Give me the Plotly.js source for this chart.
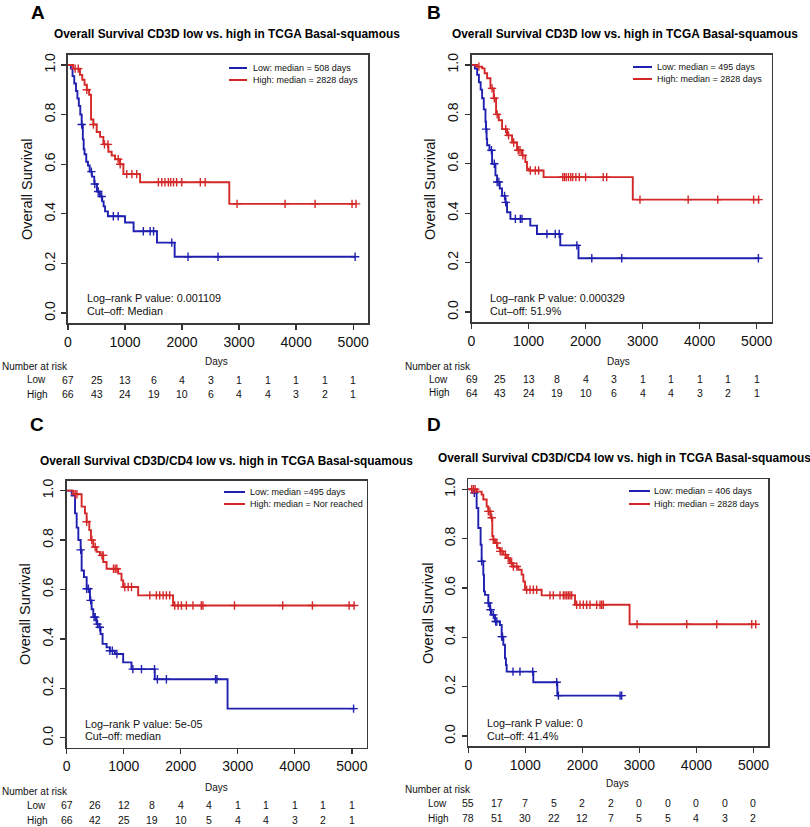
<!DOCTYPE html>
<html><head><meta charset="utf-8">
<script src="https://cdn.plot.ly/plotly-3.0.1.min.js"></script>
<style>html,body{margin:0;padding:0;background:#fff}#chart{width:810px;height:827px}</style>
</head><body><div id="chart"></div>
<script>
// ---------------- DATA ----------------
const riskDays = [0,500,1000,1500,2000,2500,3000,3500,4000,4500,5000];
const xTicks = [0,1000,2000,3000,4000,5000];
const yTicks = [0,0.2,0.4,0.6,0.8,1.0];
const yTickText = ['0.0','0.2','0.4','0.6','0.8','1.0'];

// Panel A
const A_low_t  = [0,50,80,110,140,165,190,215,240,260,275,290,320,350,380,420,460,508,560,600,625,650,700,1000,1150,1560,1870,5050];
const A_low_s  = [1.0,0.985,0.955,0.925,0.895,0.865,0.835,0.80,0.76,0.70,0.66,0.64,0.61,0.595,0.57,0.55,0.52,0.49,0.47,0.45,0.43,0.41,0.39,0.365,0.33,0.284,0.227,0.227];
const A_low_c  = [240,410,470,530,590,795,880,1320,1440,1500,1820,2105,2630,5034];
const A_high_t = [0,90,210,250,290,330,370,404,445,503,562,620,708,766,825,913,971,1264,2828,5050];
const A_high_s = [1.0,0.985,0.96,0.94,0.92,0.90,0.88,0.78,0.76,0.73,0.71,0.68,0.65,0.635,0.62,0.60,0.56,0.527,0.44,0.44];
const A_high_c = [125,180,330,445,640,700,880,915,1030,1120,1205,1585,1645,1700,1760,1800,1850,1905,1995,2320,2405,2964,3806,4332,4980,5050];
const A_low_risk  = [67,25,13,6,4,3,1,1,1,1,1];
const A_high_risk = [66,43,24,19,10,6,4,4,3,2,1];

// Panel B
const B_low_t  = [0,60,99,130,160,186,215,245,255,265,274,315,361,420,449,495,536,594,623,682,1031,1148,1556,1876,5050];
const B_low_s  = [1.0,0.985,0.96,0.93,0.90,0.865,0.82,0.77,0.74,0.70,0.675,0.655,0.60,0.553,0.526,0.50,0.47,0.444,0.404,0.377,0.35,0.316,0.27,0.218,0.218];
const B_low_c  = [256,350,400,450,480,580,600,769,856,885,1322,1468,1538,1847,2109,2634,5030];
const B_high_t = [0,100,186,230,274,332,390,431,478,536,623,711,798,885,944,973,1002,1264,2828,5050];
const B_high_s = [1.0,0.993,0.986,0.966,0.946,0.905,0.865,0.80,0.776,0.74,0.715,0.686,0.655,0.634,0.607,0.58,0.573,0.546,0.455,0.455];
const B_high_c = [130,360,400,450,600,650,740,820,850,900,1031,1119,1177,1600,1630,1660,1700,1740,1775,1830,1890,2000,2310,2370,2954,3799,4318,4947,5034];
const B_low_risk  = [69,25,13,8,4,3,1,1,1,1,1];
const B_high_risk = [64,43,24,19,10,6,4,4,3,2,1];

// Panel C
const C_low_t  = [0,87,146,175,204,245,262,303,350,408,437,466,524,571,594,629,699,757,845,990,1136,1544,2820,5050];
const C_low_s  = [1.0,0.98,0.908,0.85,0.80,0.76,0.677,0.65,0.603,0.556,0.52,0.488,0.46,0.447,0.42,0.38,0.366,0.352,0.339,0.305,0.278,0.237,0.118,0.118];
const C_low_c  = [245,350,380,420,480,500,540,580,757,800,880,1160,1311,1540,1590,1748,2610,2634,5030];
const C_high_t = [0,117,262,320,350,396,425,466,524,583,641,699,903,961,990,1253,1865,5050];
const C_high_s = [1.0,0.985,0.935,0.908,0.874,0.84,0.80,0.772,0.752,0.738,0.711,0.684,0.664,0.637,0.61,0.576,0.535,0.535];
const C_high_c = [150,180,350,440,500,620,640,820,850,880,1019,1078,1136,1457,1573,1631,1690,1748,1806,1894,1953,2011,2098,2214,2360,2389,2942,3787,4308,4952,5039];
const C_low_risk  = [67,26,12,8,4,4,1,1,1,1,1];
const C_high_risk = [66,42,25,19,10,5,4,4,3,2,1];

// Panel D
const D_low_t  = [0,88,146,175,216,234,263,275,292,351,380,406,468,555,585,614,643,660,673,1140,1561,2690];
const D_low_s  = [1.0,0.985,0.924,0.843,0.775,0.708,0.654,0.586,0.572,0.539,0.512,0.491,0.464,0.45,0.403,0.37,0.315,0.288,0.261,0.218,0.164,0.164];
const D_low_c  = [105,234,351,390,440,480,500,585,600,784,906,1130,1550,1580,2661,2690];
const D_high_t = [0,150,234,263,322,351,392,421,439,468,509,555,614,672,731,789,877,935,965,994,1286,1871,2828,5050];
const D_high_s = [1.0,0.99,0.978,0.958,0.93,0.91,0.884,0.81,0.796,0.782,0.762,0.748,0.735,0.721,0.70,0.687,0.674,0.654,0.626,0.593,0.57,0.532,0.453,0.453];
const D_high_c = [60,90,120,351,380,410,440,500,560,590,650,700,760,790,850,1023,1082,1140,1199,1432,1491,1608,1666,1695,1725,1754,1783,1812,1900,1959,2017,2076,2134,2251,2310,2339,2368,2959,3830,4357,4970,5040];
const D_low_risk  = [55,17,7,5,2,2,0,0,0,0,0];
const D_high_risk = [78,51,30,22,12,7,5,5,4,3,2];

const panelLetters = ['A','B','C','D'];
const panelTitles = [
  'Overall Survival CD3D low vs. high in TCGA Basal-squamous',
  'Overall Survival CD3D low vs. high in TCGA Basal-squamous',
  'Overall Survival CD3D/CD4 low vs. high in TCGA Basal-squamous',
  'Overall Survival CD3D/CD4 low vs. high in TCGA Basal-squamous'
];
const lowLegend  = ['Low: median = 508 days','Low: median = 495 days','Low: median =495 days','Low: median = 406 days'];
const highLegend = ['High: median = 2828 days','High: median = 2828 days','High: median = Nor reached','High: median = 2828 days'];
const pValues = ['Log–rank P value: 0.001109','Log–rank P value: 0.000329','Log–rank P value: 5e-05','Log–rank P value: 0'];
const cutOffs = ['Cut–off: Median','Cut–off: 51.9%','Cut–off: median','Cut–off: 41.4%'];

// ---------------- LAYOUT GEOMETRY (pixels) ----------------
const W = 810, H = 827;
const FONT = 'Liberation Sans, Arial, Helvetica, sans-serif';
const BLUE = '#2020b0', RED = '#d42828', TXT = '#111';
const geo = [
  {L:68, R:368, T:55, B:323, letter:[38,12], title:[227,34], leg:[229,247,251,68,80], stat:[85,298,311], days:[217,362], nar:[0,367], rowX:25, rowY:[380,394]},
  {L:471.5, R:771.5, T:55, B:322, letter:[434,12], title:[625,34], leg:[633,652,655,67,79], stat:[488,298,311], days:[618,361], nar:[403,366], rowX:427, rowY:[379,393]},
  {L:66.7, R:366.7, T:480.7, B:747.7, letter:[37,424], title:[227,461], leg:[224,245,248,492,504], stat:[83,724,736], days:[217,787], nar:[0,791], rowX:25, rowY:[805,820]},
  {L:468.3, R:768.3, T:479.3, B:746, letter:[434,424], title:[624,457.5], leg:[629,650,652,491,504], stat:[485,723,736], days:[617,783], nar:[403,789], rowX:426, rowY:[803,818]}
];
const px = x => x / W, py = y => 1 - y / H;

const curves = [
  {lt:A_low_t, ls:A_low_s, lc:A_low_c, ht:A_high_t, hs:A_high_s, hc:A_high_c, lr:A_low_risk, hr:A_high_risk},
  {lt:B_low_t, ls:B_low_s, lc:B_low_c, ht:B_high_t, hs:B_high_s, hc:B_high_c, lr:B_low_risk, hr:B_high_risk},
  {lt:C_low_t, ls:C_low_s, lc:C_low_c, ht:C_high_t, hs:C_high_s, hc:C_high_c, lr:C_low_risk, hr:C_high_risk},
  {lt:D_low_t, ls:D_low_s, lc:D_low_c, ht:D_high_t, hs:D_high_s, hc:D_high_c, lr:D_low_risk, hr:D_high_risk}
];

function stepAt(ts, ss, t){ let v = ss[0]; for (let i=0;i<ts.length;i++){ if (ts[i] <= t) v = ss[i]; } return v; }

const traces = [];
const annotations = [];
const shapes = [];
const layout = {
  width: W, height: H, margin:{l:0,r:0,t:0,b:0},
  paper_bgcolor:'#fff', plot_bgcolor:'#fff', showlegend:false,
  font:{family:FONT, color:TXT},
  annotations, shapes
};

curves.forEach((c, i) => {
  const g = geo[i];
  const k = i === 0 ? '' : String(i+1);
  const xa = 'x' + k, ya = 'y' + k;
  layout['xaxis' + k] = {
    domain:[px(g.L), px(g.R)], range:[0,5260], anchor:ya,
    tickvals:xTicks, ticks:'outside', ticklen:5, tickwidth:1.3, tickcolor:'#333',
    showline:true, mirror:true, linecolor:'#3a3a3a', linewidth:1.7,
    showgrid:false, zeroline:false, tickfont:{size:14, color:TXT}
  };
  layout['yaxis' + k] = {
    domain:[py(g.B), py(g.T)], range:[-0.04,1.04], anchor:xa,
    tickvals:yTicks, ticktext:yTickText, tickangle:-90,
    ticks:'outside', ticklen:5, tickwidth:1.3, tickcolor:'#333',
    showline:true, mirror:true, linecolor:'#3a3a3a', linewidth:1.7,
    showgrid:false, zeroline:false, tickfont:{size:14, color:TXT}, ticklabelstandoff:1
  };
  [[c.lt,c.ls,c.lc,BLUE,'Low'],[c.ht,c.hs,c.hc,RED,'High']].forEach(([t,s,cen,col,nm]) => {
    traces.push({type:'scatter', mode:'lines', x:t, y:s, xaxis:xa, yaxis:ya,
      line:{shape:'hv', color:col, width:1.9}, name:nm, hoverinfo:'x+y'});
    traces.push({type:'scatter', mode:'markers', x:cen, y:cen.map(v => stepAt(t,s,v)), xaxis:xa, yaxis:ya,
      marker:{symbol:'cross-thin', size:6, color:col, line:{color:col, width:1.4}}, name:nm + ' censored', hoverinfo:'x+y'});
  });
  annotations.push({xref:'paper', yref:'paper', x:px(g.letter[0]), y:py(g.letter[1]), text:'<b>'+panelLetters[i]+'</b>',
    showarrow:false, xanchor:'center', yanchor:'middle', font:{size:19, color:'#000'}});
  annotations.push({xref:'paper', yref:'paper', x:px(g.title[0]), y:py(g.title[1]), text:'<b>'+panelTitles[i]+'</b>',
    showarrow:false, xanchor:'center', yanchor:'middle', font:{size:11.9, color:'#000'}});
  annotations.push({xref:'paper', yref:'paper', x:px(g.L - 41), y:py((g.T + g.B)/2), text:'Overall Survival', textangle:-90,
    showarrow:false, xanchor:'center', yanchor:'middle', font:{size:14.5, color:TXT}});
  [[lowLegend[i], BLUE, g.leg[3]], [highLegend[i], RED, g.leg[4]]].forEach(([txt,col,yy]) => {
    shapes.push({type:'line', xref:'paper', yref:'paper', x0:px(g.leg[0]), x1:px(g.leg[1]), y0:py(yy), y1:py(yy), line:{color:col, width:2}});
    annotations.push({xref:'paper', yref:'paper', x:px(g.leg[2]), y:py(yy), text:txt, showarrow:false,
      xanchor:'left', yanchor:'middle', font:{size:9, color:TXT}});
  });
  annotations.push({xref:'paper', yref:'paper', x:px(g.stat[0]), y:py(g.stat[1]), text:pValues[i], showarrow:false,
    xanchor:'left', yanchor:'middle', font:{size:10.8, color:TXT}});
  annotations.push({xref:'paper', yref:'paper', x:px(g.stat[0]), y:py(g.stat[2]), text:cutOffs[i], showarrow:false,
    xanchor:'left', yanchor:'middle', font:{size:10.8, color:TXT}});
  annotations.push({xref:'paper', yref:'paper', x:px(g.days[0]), y:py(g.days[1]), text:'Days', showarrow:false,
    xanchor:'center', yanchor:'middle', font:{size:10, color:TXT}});
  annotations.push({xref:'paper', yref:'paper', x:px(g.nar[0]), y:py(g.nar[1]), text:'Number at risk', showarrow:false,
    xanchor:'left', yanchor:'middle', font:{size:10, color:TXT}});
  annotations.push({xref:'paper', yref:'paper', x:px(g.rowX), y:py(g.rowY[0]), text:'Low', showarrow:false,
    xanchor:'left', yanchor:'middle', font:{size:10, color:TXT}});
  annotations.push({xref:'paper', yref:'paper', x:px(g.rowX), y:py(g.rowY[1]), text:'High', showarrow:false,
    xanchor:'left', yanchor:'middle', font:{size:10, color:TXT}});
  riskDays.forEach((d, j) => {
    annotations.push({xref:xa, yref:'paper', x:d, y:py(g.rowY[0]), text:String(c.lr[j]), showarrow:false,
      xanchor:'center', yanchor:'middle', font:{size:10.5, color:TXT}});
    annotations.push({xref:xa, yref:'paper', x:d, y:py(g.rowY[1]), text:String(c.hr[j]), showarrow:false,
      xanchor:'center', yanchor:'middle', font:{size:10.5, color:TXT}});
  });
});

Plotly.newPlot('chart', traces, layout, {displayModeBar:false, staticPlot:true});
</script>
</body></html>
